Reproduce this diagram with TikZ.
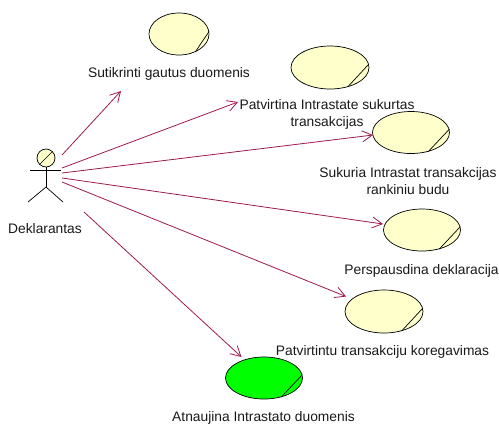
\documentclass[tikz,border=0pt]{standalone}
\usepackage{fontspec}
\setmainfont{Liberation Sans}
\usetikzlibrary{arrows.meta, shapes.geometric}
\begin{document}
\begin{tikzpicture}[
    x=1pt, y=-1pt,
    line width=0.7pt,
    usecase/.style={draw, ellipse, inner sep=0pt, fill=caseyellow, minimum width=77pt, minimum height=42pt},
    lbl/.style={font=\fontsize{13.8}{16.5}\selectfont, align=center, inner sep=0pt, text=black!90},
    assoc/.style={-{Straight Barb[length=10pt, width=11pt]}, draw=assocred, line width=0.8pt},
    slash/.style={draw=black},
]
\definecolor{caseyellow}{HTML}{FFFFCC}
\definecolor{assocred}{HTML}{A01850}
\useasboundingbox (0,0) rectangle (499,424);
% === Actor ===
\node[draw, circle, inner sep=0pt, minimum size=18pt, fill=caseyellow] (head) at (46,158) {};
\draw[slash] (head.-135) -- (head.45);
\coordinate (armL) at (30,170);
\coordinate (armR) at (61,170);
\coordinate (hip) at (46,187);
\coordinate (footL) at (28,202);
\coordinate (footR) at (63,202);
\draw (head.south) -- (hip);
\draw (armL) -- (armR);
\draw (footL) -- (hip) -- (footR);
\node[lbl] (actor) at (45,229) {Deklarantas};
% === Use cases ===
\node[usecase, minimum width=60pt] (check) at (179,34) {};
\node[usecase, minimum width=78pt, minimum height=43pt] (confirm) at (330,67.5) {};
\node[usecase] (create) at (411,132.5) {};
\node[usecase] (print) at (422,230) {};
\node[usecase, minimum width=78pt, minimum height=43pt] (correct) at (384,311.5) {};
\node[usecase, fill=green] (update) at (264,378) {};
\draw[slash] (check.-48) -- (check.5);
\draw[slash] (confirm.-48) -- (confirm.5);
\draw[slash] (create.-48) -- (create.5);
\draw[slash] (print.-48) -- (print.5);
\draw[slash] (correct.-48) -- (correct.5);
\draw[slash] (update.-48) -- (update.5);
% === Labels ===
\node[lbl] (checkl) at (169,74) {Sutikrinti gautus duomenis};
\node[lbl] (confirml) at (327,114.5) {Patvirtina Intrastate sukurtas\\transakcijas};
\node[lbl] (createl) at (408,181) {Sukuria Intrastat transakcijas\\rankiniu budu};
\node[lbl] (printl) at (421.5,271) {Perspausdina deklaracija};
\node[lbl] (correctl) at (382.5,352) {Patvirtintu transakciju koregavimas};
\node[lbl] (updatel) at (263.5,418) {Atnaujina Intrastato duomenis};
% === Associations ===
\coordinate (from1) at (62,155);
\coordinate (from2) at (62,168);
\coordinate (from3) at (62,173);
\coordinate (from4) at (62,178);
\coordinate (from5) at (62,182);
\coordinate (from6) at (84,212);
\coordinate (to1) at (121,91);
\coordinate (to2) at (238,102);
\coordinate (to3) at (373,135);
\coordinate (to4) at (383,224);
\coordinate (to5) at (346,296.5);
\coordinate (to6) at (241.5,357);
\draw[assoc] (from1) -- (to1);
\draw[assoc] (from2) -- (to2);
\draw[assoc] (from3) -- (to3);
\draw[assoc] (from4) -- (to4);
\draw[assoc] (from5) -- (to5);
\draw[assoc] (from6) -- (to6);
\end{tikzpicture}
\end{document}
